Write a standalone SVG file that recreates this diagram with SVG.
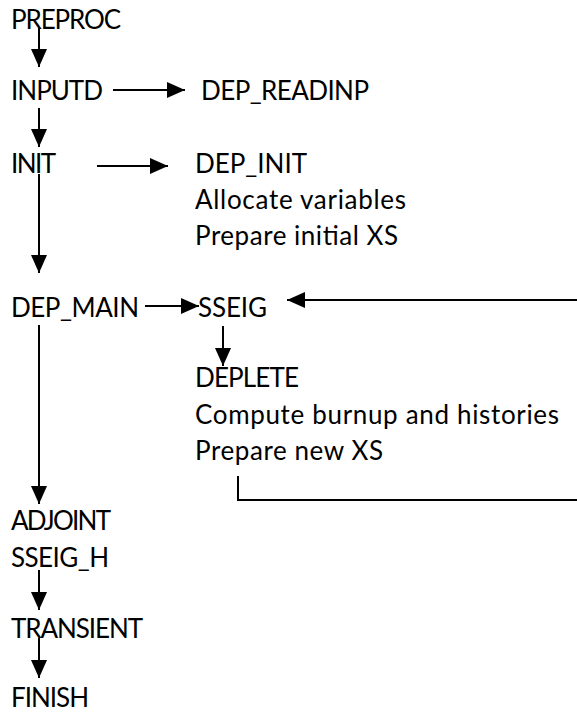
<svg xmlns="http://www.w3.org/2000/svg" width="577" height="713" viewBox="0 0 577 713">
<style>
text{font-family:Lato,"Open Sans","Liberation Sans",sans-serif;font-size:26px;fill:#000}
.c line,.c polyline{stroke:#000;stroke-width:2;fill:none}
</style>
<defs>
<marker id="ah" markerWidth="18" markerHeight="16" refX="18" refY="8" orient="auto" markerUnits="userSpaceOnUse" viewBox="0 0 18 16">
<path d="M0,0L18,8L0,16Z" fill="#000"/>
</marker>
</defs>
<rect width="577" height="713" fill="#fff"/>
<g id="preproc"><text x="11" y="29" textLength="110">PREPROC</text></g>
<g id="inputd"><text x="11" y="100" textLength="92">INPUTD</text></g>
<g id="dep_readinp"><text x="201" y="100" textLength="168">DEP_READINP</text></g>
<g id="init"><text x="11" y="173" textLength="45">INIT</text></g>
<g id="dep_init"><text x="195" y="173" textLength="112">DEP_INIT</text><text x="195" y="209" textLength="211">Allocate variables</text><text x="195" y="245" textLength="203">Prepare initial XS</text></g>
<g id="dep_main"><text x="11" y="317" textLength="128">DEP_MAIN</text></g>
<g id="sseig"><text x="198" y="317" textLength="69">SSEIG</text></g>
<g id="deplete"><text x="195" y="387" textLength="104">DEPLETE</text><text x="195" y="424" textLength="364">Compute burnup and histories</text><text x="195" y="460" textLength="188">Prepare new XS</text></g>
<g id="adjoint"><text x="11" y="530" textLength="100">ADJOINT</text></g>
<g id="sseig_h"><text x="11" y="567" textLength="98">SSEIG_H</text></g>
<g id="transient"><text x="11" y="638" textLength="132">TRANSIENT</text></g>
<g id="finish"><text x="11" y="707" textLength="78">FINISH</text></g>
<g class="c" id="connectors">
<line x1="39" y1="28" x2="39" y2="67" marker-end="url(#ah)"/>
<line x1="113" y1="90" x2="185" y2="90" marker-end="url(#ah)"/>
<line x1="39" y1="108" x2="39" y2="147" marker-end="url(#ah)"/>
<line x1="97" y1="166" x2="168" y2="166" marker-end="url(#ah)"/>
<line x1="39" y1="174" x2="39" y2="273" marker-end="url(#ah)"/>
<line x1="145" y1="306" x2="199" y2="306" marker-end="url(#ah)"/>
<line x1="577" y1="300" x2="287" y2="300" marker-end="url(#ah)"/>
<line x1="223" y1="326" x2="223" y2="366" marker-end="url(#ah)"/>
<polyline points="238,476 238,500 577,500"/>
<line x1="39" y1="325" x2="39" y2="504" marker-end="url(#ah)"/>
<line x1="39" y1="570" x2="39" y2="610" marker-end="url(#ah)"/>
<line x1="39" y1="638" x2="39" y2="678" marker-end="url(#ah)"/>
</g>
</svg>
